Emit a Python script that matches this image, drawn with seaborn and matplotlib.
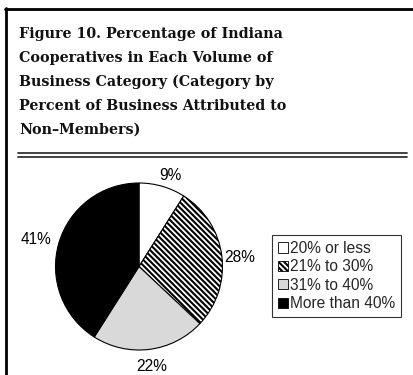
import matplotlib
matplotlib.use("Agg")
import numpy as np
import matplotlib.pyplot as plt
from matplotlib.lines import Line2D
from matplotlib.patches import Patch
import seaborn as sns

# Share of Indiana cooperatives by non-member business category
categories = ["20% or less", "21% to 30%", "31% to 40%", "More than 40%"]
shares = [9, 28, 22, 41]
pct_labels = [f"{v}%" for v in shares]
title = ("Figure 10. Percentage of Indiana\n"
         "Cooperatives in Each Volume of\n"
         "Business Category (Category by\n"
         "Percent of Business Attributed to\n"
         "Non\u2013Members)")

sns.set_theme(style="white")
plt.rcParams["font.family"] = ["Liberation Sans", "DejaVu Sans"]
plt.rcParams["hatch.linewidth"] = 1.5

W, H = 413, 375
fig = plt.figure(figsize=(W / 100, H / 100), dpi=100)
fig.patch.set_facecolor("white")


def fx(px):
    return px / W


def fy(py):
    return 1 - py / H


# Frame: thick top and left rules
fig.add_artist(Line2D([fx(5), fx(413)], [fy(8.5), fy(8.5)], color="black", lw=2.0))
fig.add_artist(Line2D([fx(6), fx(6)], [fy(8), fy(375)], color="black", lw=2.0))

# Title block
fig.text(fx(19), fy(27), title, ha="left", va="top", fontsize=10.3,
         fontweight="bold", family=["DejaVu Serif"], linespacing=1.88,
         color="#111111")

# Double rule under the title
for yy in (152.5, 157.5):
    fig.add_artist(Line2D([fx(18), fx(407)], [fy(yy), fy(yy)],
                          color="#333333", lw=1.3))

# Pie chart
cx, cy, r = 139, 266.5, 83.5
ax = fig.add_axes([fx(cx - r), fy(cy + r), 2 * r / W, 2 * r / H])
colors = ["white", "white", "#d9d9d9", "black"]
dense_stripes = "\\" * 6
hatches = ["", dense_stripes, "", ""]
wedges, texts = ax.pie(shares, labels=pct_labels, colors=colors,
                       startangle=90, counterclock=False,
                       labeldistance=1.21,
                       wedgeprops=dict(edgecolor="black", linewidth=0.8),
                       textprops=dict(fontsize=11.2, color="black"))
for w, h in zip(wedges, hatches):
    w.set_hatch(h)

# Per-label radial offsets and angle nudges for the percentage labels
label_dist = [1.16, 1.21, 1.21, 1.27]
label_nudge = [-3, -2, 0, 1.5]
for t, w, d, n in zip(texts, wedges, label_dist, label_nudge):
    ang = np.deg2rad((w.theta1 + w.theta2) / 2 + n)
    t.set_position((d * np.cos(ang), d * np.sin(ang)))
    t.set_ha("center")
    t.set_va("center")
ax.set_xlim(-1, 1)
ax.set_ylim(-1, 1)
ax.set_aspect("equal")
ax.axis("off")

# Legend
handles = [Patch(facecolor=c, edgecolor="black", hatch=h, linewidth=0.6)
           for c, h in zip(colors, hatches)]
leg = fig.legend(handles, categories, loc="upper left",
                 bbox_to_anchor=(fx(272), fy(235)), frameon=True,
                 fontsize=11.2, handlelength=0.65, handleheight=0.65,
                 handletextpad=0.15, labelspacing=0.22, borderpad=0.38,
                 borderaxespad=0, fancybox=False)
leg.get_frame().set_edgecolor("black")
leg.get_frame().set_linewidth(0.8)

fig.savefig("out.png", dpi=100, facecolor="white")
